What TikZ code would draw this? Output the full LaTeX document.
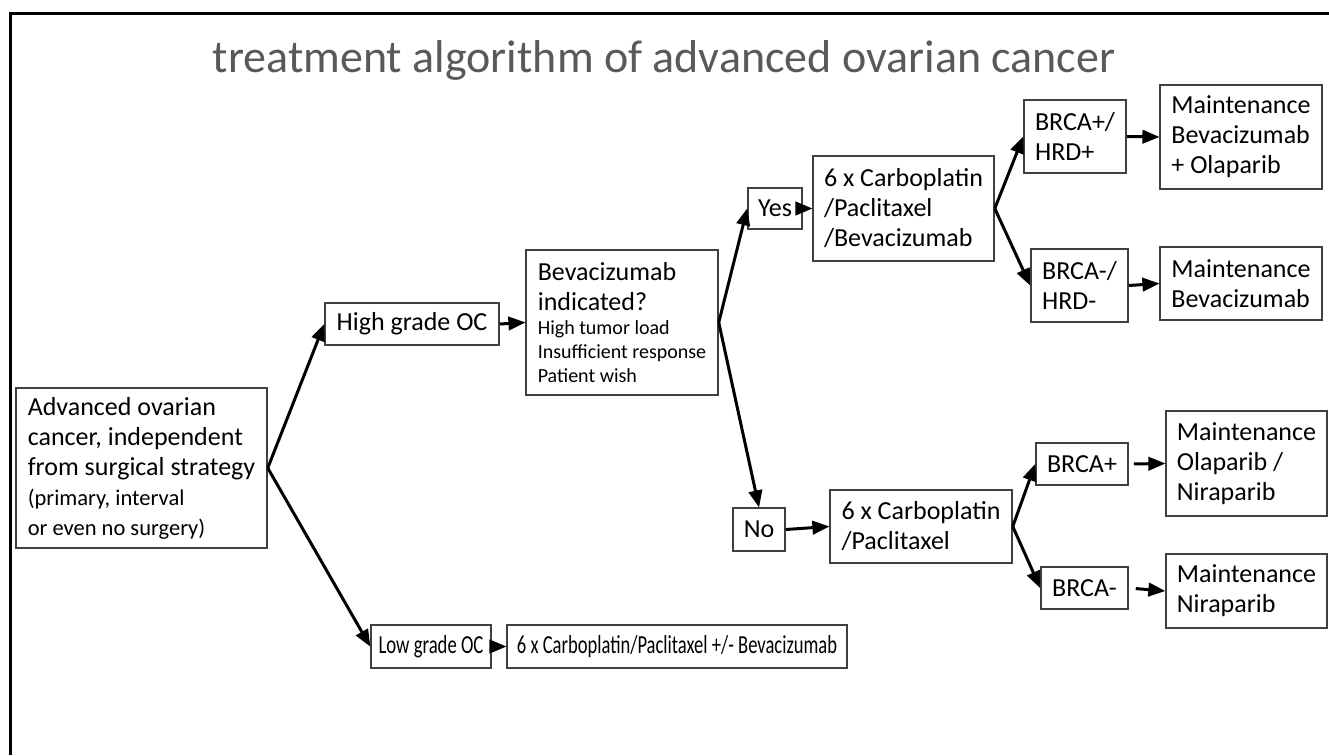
\documentclass[tikz,border=0pt]{standalone}
\usepackage{fontspec}
\setmainfont{Carlito}
\usetikzlibrary{arrows,positioning}

\begin{document}
\begin{tikzpicture}[x=1pt,y=-1pt]
\tikzstyle{box}=[draw=black!75, line width=1.5pt, inner xsep=11pt, inner ysep=0pt, align=left, font=\fontsize{26}{30}\selectfont]
\tikzstyle{arr}=[-triangle 45, line width=3pt]
\useasboundingbox (0,0) rectangle (1329,755);
\draw[line width=3pt] (10,755) -- (10,13) -- (1329,13);

\node[anchor=base, text=black!65, font=\fontsize{46}{50}\selectfont] (title) at (664,72) {treatment algorithm of advanced ovarian cancer};

\node[box, minimum width=251pt, minimum height=160pt] (adv) at (141.5,468) {Advanced ovarian\\cancer, independent\\from surgical strategy\\{\fontsize{22.5}{24}\selectfont (primary, interval}\\{\fontsize{22.5}{24}\selectfont or even no surgery)}};
\node[box, minimum width=174pt, minimum height=42pt] (high) at (412,324) {High grade OC};
\node[box, minimum width=192pt, minimum height=145pt] (bev) at (622,322.5) {Bevacizumab\\indicated?\\[-6pt]{\fontsize{20}{24}\selectfont High tumor load}\\[-6pt]{\fontsize{20}{24}\selectfont Insufficient response}\\[-6pt]{\fontsize{20}{24}\selectfont Patient wish}};
\node[box, minimum width=54pt, minimum height=41pt, inner xsep=0pt] (yes) at (775,208.5) {Yes};
\node[box, minimum width=52pt, minimum height=43pt, inner xsep=0pt] (no) at (759,529.5) {No};
\node[box, minimum width=181pt, minimum height=105pt] (cpb) at (903.5,208.5) {6 x Carboplatin\\/Paclitaxel\\/Bevacizumab};
\node[box, minimum width=182pt, minimum height=73pt] (cp) at (921,526.5) {6 x Carboplatin\\/Paclitaxel};
\node[box, minimum width=102pt, minimum height=73pt] (hrdp) at (1075,136.5) {BRCA+/\\HRD+};
\node[box, minimum width=97pt, minimum height=73pt] (hrdm) at (1079.5,285.5) {BRCA-/\\HRD-};
\node[box, minimum width=92pt, minimum height=42pt, inner xsep=0pt] (brcap) at (1082,464) {BRCA+};
\node[box, minimum width=87pt, minimum height=42pt, inner xsep=0pt] (brcam) at (1084.5,588) {BRCA-};
\node[box, minimum width=162pt, minimum height=104pt] (mbevola) at (1241,137) {Maintenance\\Bevacizumab\\+ Olaparib};
\node[box, minimum width=162pt, minimum height=73pt] (mbev) at (1241,283.5) {Maintenance\\Bevacizumab};
\node[box, minimum width=161pt, minimum height=105pt] (molanir) at (1246.5,463.5) {Maintenance\\Olaparib /\\Niraparib};
\node[box, minimum width=161pt, minimum height=74pt] (mnir) at (1246.5,591) {Maintenance\\Niraparib};
\node[box, minimum width=120pt, minimum height=43pt, inner xsep=0pt] (low) at (431,646.5) {\scalebox{0.72}[1]{Low grade OC}};
\node[box, minimum width=340pt, minimum height=43pt, inner xsep=0pt] (cpbl) at (677,646.5) {\scalebox{0.714}[1]{6 x Carboplatin/Paclitaxel +/- Bevacizumab}};

% connectors
\draw[arr] (adv.east) -- (high.west);
\draw[arr] (adv.east) -- (low.west);
\draw[arr] (high.east) -- (bev.west);
\draw[arr] (bev.east) -- (yes.west);
\draw[arr] (bev.east) -- (no.north);
\draw[arr] (yes.east) -- (cpb.west);
\draw[arr] (no.east) -- (cp.west);
\draw[arr] (cpb.east) -- (hrdp.west);
\draw[arr] (cpb.east) -- (hrdm.west);
\draw[arr] (cp.east) -- (brcap.west);
\draw[arr] (cp.east) -- (brcam.west);
\draw[arr] (hrdp.east) -- (mbevola.west);
\draw[arr] (hrdm.east) -- (mbev.west);
\draw[arr, shorten <=5pt] (brcap.east) -- (molanir.west);
\draw[arr, shorten <=7pt] (brcam.east) -- (mnir.west);
\draw[arr] (low.east) -- (cpbl.west);
\end{tikzpicture}
\end{document}
